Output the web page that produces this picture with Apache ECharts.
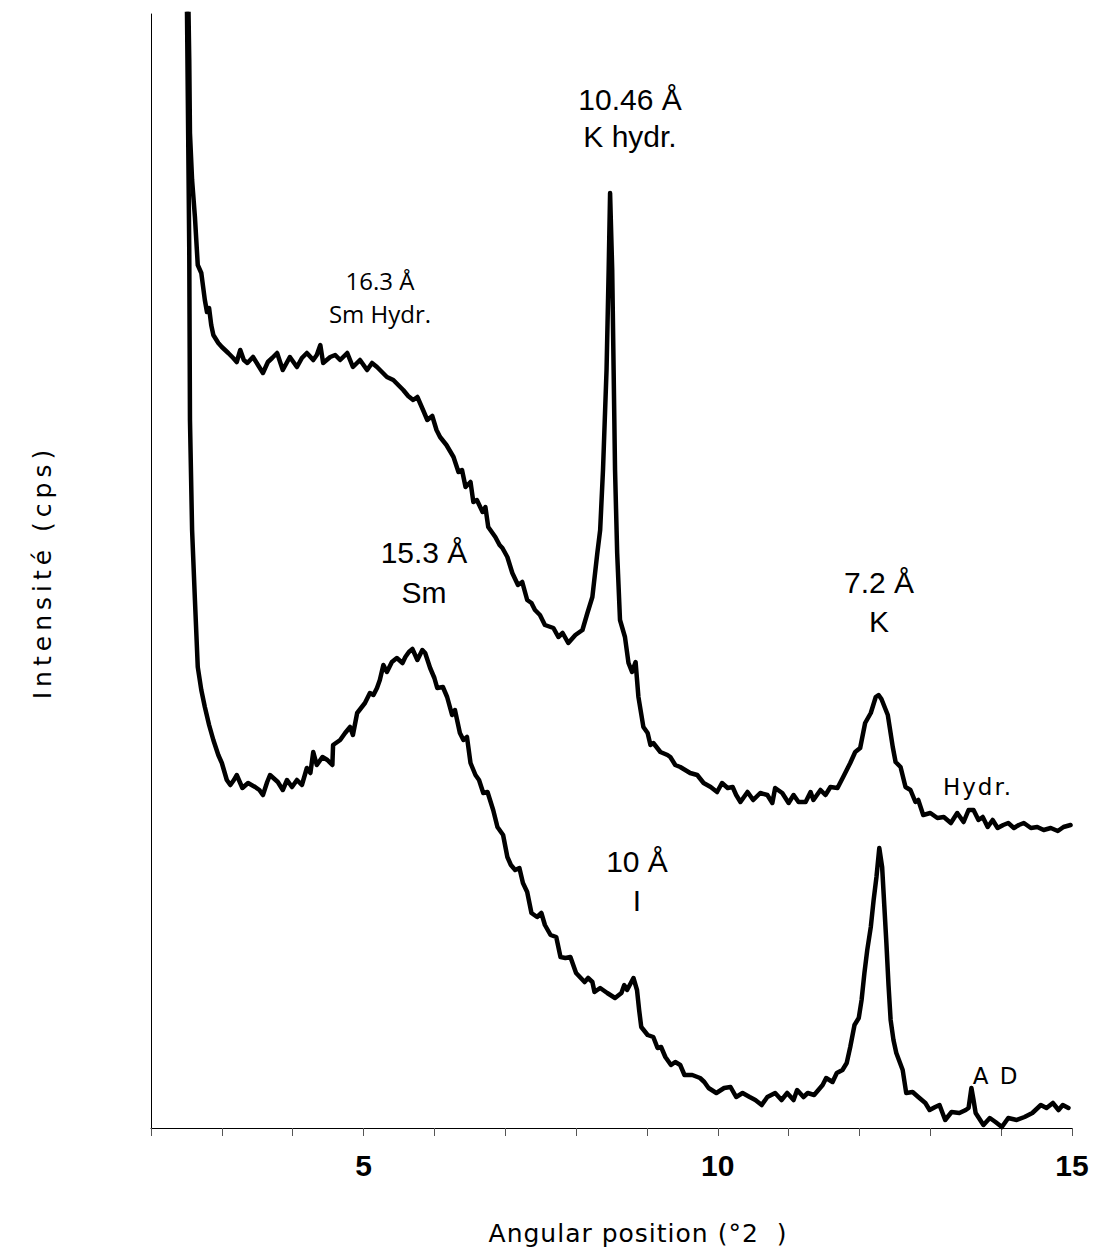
<!DOCTYPE html>
<html>
<head>
<meta charset="utf-8">
<script src="https://cdn.jsdelivr.net/npm/echarts@6/dist/echarts.min.js"></script>
<style>
  html, body { margin: 0; padding: 0; background: #fff; }
  #chart { width: 1106px; height: 1255px; }
  #chart svg text { white-space: pre; }
</style>
</head>
<body>
<div id="chart"></div>
<script>
// XRD patterns of the clay fraction: hydrated (upper) and air-dried (lower).
// Angular position in °2θ, intensity in counts per second.

const hydrX = [2.50, 2.54, 2.55, 2.58, 2.62, 2.66, 2.71, 2.76, 2.79, 2.82, 2.85, 2.88, 2.95, 3.00, 3.09, 3.16,
  3.21, 3.26, 3.31, 3.36, 3.44, 3.51, 3.58, 3.65, 3.71, 3.78, 3.86, 3.96, 4.06, 4.13, 4.20, 4.29, 4.34, 4.39,
  4.43, 4.53, 4.60, 4.67, 4.77, 4.85, 4.95, 5.05, 5.12, 5.19, 5.26, 5.33, 5.42, 5.49, 5.56, 5.63, 5.70, 5.76,
  5.84, 5.90, 5.97, 6.03, 6.08, 6.17, 6.27, 6.34, 6.39, 6.44, 6.51, 6.55, 6.60, 6.68, 6.72, 6.76, 6.86, 6.92,
  6.96, 7.03, 7.10, 7.18, 7.24, 7.31, 7.37, 7.42, 7.49, 7.56, 7.68, 7.75, 7.81, 7.89, 7.99, 8.09, 8.16, 8.23,
  8.30, 8.34, 8.38, 8.43, 8.46, 8.48, 8.51, 8.53, 8.55, 8.58, 8.62, 8.69, 8.74, 8.79, 8.84, 8.88, 8.95, 9.01,
  9.05, 9.09, 9.19, 9.29, 9.33, 9.40, 9.47, 9.54, 9.61, 9.71, 9.80, 9.90, 9.99, 10.06, 10.14, 10.21, 10.26,
  10.32, 10.42, 10.50, 10.60, 10.70, 10.77, 10.81, 10.91, 11.00, 11.07, 11.14, 11.24, 11.31, 11.35, 11.45,
  11.52, 11.59, 11.69, 11.77, 11.87, 11.94, 12.01, 12.08, 12.16, 12.23, 12.27, 12.31, 12.40, 12.47, 12.51,
  12.58, 12.65, 12.72, 12.79, 12.83, 12.90, 13.00, 13.10, 13.19, 13.29, 13.38, 13.47, 13.54, 13.61, 13.68,
  13.74, 13.81, 13.88, 13.95, 14.03, 14.10, 14.18, 14.25, 14.32, 14.42, 14.51, 14.60, 14.70, 14.80, 14.88, 14.98];

const hydrY = [2500, 2136, 1990, 1896, 1822, 1726, 1710, 1656, 1632, 1640, 1606, 1586, 1570, 1562, 1550, 1540,
  1532, 1556, 1536, 1530, 1542, 1526, 1510, 1532, 1540, 1550, 1516, 1542, 1522, 1540, 1550, 1536, 1546, 1566,
  1530, 1542, 1546, 1536, 1550, 1522, 1536, 1516, 1530, 1522, 1512, 1502, 1496, 1486, 1476, 1464, 1456, 1462,
  1436, 1416, 1424, 1396, 1382, 1366, 1342, 1312, 1316, 1282, 1292, 1252, 1256, 1232, 1242, 1202, 1182, 1166,
  1160, 1142, 1110, 1086, 1092, 1056, 1050, 1036, 1026, 1006, 1000, 982, 990, 970, 986, 996, 1030, 1062,
  1150, 1196, 1316, 1516, 1716, 1870, 1716, 1516, 1316, 1150, 1016, 982, 930, 912, 932, 862, 802, 790,
  766, 770, 752, 746, 742, 726, 722, 716, 710, 706, 690, 682, 672, 690, 680, 682, 666,
  652, 672, 656, 670, 666, 650, 680, 670, 650, 666, 652, 652, 672, 656, 676,
  666, 682, 680, 702, 730, 752, 760, 810, 830, 862, 866, 858, 826, 762, 732,
  722, 682, 676, 652, 656, 626, 630, 620, 622, 610, 630, 612, 636, 636, 616,
  622, 602, 616, 600, 606, 610, 600, 606, 610, 600, 602, 596, 600, 594, 602, 606];

const dryX = [2.49, 2.52, 2.54, 2.55, 2.58, 2.62, 2.66, 2.71, 2.76, 2.82, 2.88, 2.95, 3.00, 3.07, 3.12, 3.17,
  3.21, 3.29, 3.37, 3.47, 3.53, 3.58, 3.64, 3.68, 3.79, 3.86, 3.92, 3.99, 4.06, 4.13, 4.20, 4.25, 4.29, 4.34,
  4.42, 4.49, 4.56, 4.57, 4.67, 4.74, 4.81, 4.85, 4.91, 5.02, 5.09, 5.14, 5.19, 5.23, 5.28, 5.33, 5.40, 5.47,
  5.55, 5.59, 5.64, 5.69, 5.76, 5.83, 5.87, 5.94, 6.00, 6.04, 6.12, 6.18, 6.25, 6.29, 6.36, 6.41, 6.46, 6.51,
  6.58, 6.63, 6.69, 6.75, 6.83, 6.89, 6.94, 6.97, 7.03, 7.08, 7.14, 7.20, 7.25, 7.31, 7.37, 7.45, 7.51, 7.56,
  7.64, 7.72, 7.78, 7.85, 7.92, 8.00, 8.12, 8.17, 8.23, 8.26, 8.34, 8.44, 8.55, 8.64, 8.68, 8.72, 8.81, 8.86,
  8.89, 8.92, 9.01, 9.09, 9.15, 9.20, 9.26, 9.34, 9.40, 9.47, 9.53, 9.64, 9.75, 9.81, 9.87, 9.98, 10.09,
  10.18, 10.26, 10.35, 10.45, 10.53, 10.62, 10.70, 10.81, 10.90, 10.98, 11.07, 11.12, 11.21, 11.27, 11.36,
  11.42, 11.48, 11.53, 11.62, 11.68, 11.76, 11.82, 11.87, 11.93, 11.99, 12.03, 12.07, 12.11, 12.16, 12.20,
  12.24, 12.28, 12.32, 12.35, 12.38, 12.41, 12.44, 12.48, 12.52, 12.61, 12.66, 12.75, 12.83, 12.93, 12.99,
  13.07, 13.13, 13.21, 13.30, 13.41, 13.50, 13.54, 13.58, 13.61, 13.64, 13.75, 13.84, 13.92, 14.01, 14.10,
  14.22, 14.33, 14.44, 14.56, 14.64, 14.73, 14.81, 14.87, 14.95];

const dryY = [2500, 2056, 1756, 1416, 1196, 1056, 922, 876, 842, 806, 776, 746, 730, 696, 686, 696,
  706, 680, 690, 682, 676, 666, 692, 706, 692, 676, 696, 682, 696, 686, 720, 710, 752, 726,
  742, 736, 726, 766, 776, 790, 802, 786, 830, 850, 870, 866, 880, 896, 926, 912, 932, 940,
  930, 942, 952, 958, 936, 956, 950, 920, 900, 880, 882, 862, 826, 836, 790, 776, 782, 730,
  706, 696, 670, 672, 636, 602, 592, 586, 542, 526, 516, 520, 490, 472, 430, 422, 430, 406,
  386, 382, 342, 340, 342, 310, 292, 300, 292, 272, 280, 270, 260, 270, 286, 276, 300, 276,
  236, 202, 186, 182, 160, 162, 142, 126, 132, 126, 106, 106, 100, 92, 80, 70, 80,
  82, 62, 70, 62, 56, 46, 62, 70, 56, 70, 56, 76, 62, 70, 66,
  76, 86, 100, 92, 110, 116, 130, 162, 206, 220, 256, 310, 356, 402, 456,
  502, 560, 522, 446, 370, 286, 216, 176, 150, 116, 70, 72, 62, 50, 36,
  42, 46, 16, 32, 30, 36, 40, 80, 56, 30, 6, 20, 12, 2, 20,
  16, 22, 30, 46, 40, 50, 36, 46, 40];

const xTickLabels = [5, 10, 15];
const axisTitleX = 'Angular position (°2  )';
const axisTitleY = 'Intensité (cps)';

const toPairs = (xs, ys) => xs.map((x, i) => [x, ys[i]]);

const chart = echarts.init(document.getElementById('chart'), null, { renderer: 'svg' });

const arial = 'Liberation Sans, Arial, sans-serif';
const verd = 'DejaVu Sans, Verdana, sans-serif';
const calib = 'Open Sans, Calibri, sans-serif';

function note(text, x, y, font, size, lh) {
  return {
    type: 'text', x: x, y: y, z: 10,
    style: {
      text: text, fill: '#000', align: 'center', verticalAlign: 'middle',
      font: size + 'px ' + font, lineHeight: lh || size
    }
  };
}

chart.setOption({
  animation: false,
  backgroundColor: '#fff',
  grid: { left: 151, right: 34, top: 14, bottom: 127 },
  xAxis: {
    type: 'value', min: 2, max: 15, interval: 1,
    axisLine: { show: true, lineStyle: { color: '#000', width: 1 } },
    axisTick: { show: true, length: 8, lineStyle: { color: '#555', width: 1 } },
    splitLine: { show: false },
    axisLabel: {
      margin: 22,
      fontFamily: arial, fontWeight: 'bold', fontSize: 30, color: '#000',
      formatter: v => (xTickLabels.indexOf(v) >= 0 ? String(v) : '')
    }
  },
  yAxis: {
    type: 'value', min: 0, max: 2228,
    axisLine: { show: true, lineStyle: { color: '#000', width: 1 } },
    axisTick: { show: false },
    axisLabel: { show: false },
    splitLine: { show: false }
  },
  series: [
    {
      name: 'Hydr.', type: 'line', data: toPairs(hydrX, hydrY),
      showSymbol: false, symbol: 'none', clip: true,
      lineStyle: { color: '#000', width: 4.5, join: 'round', cap: 'round' }
    },
    {
      name: 'A D', type: 'line', data: toPairs(dryX, dryY),
      showSymbol: false, symbol: 'none', clip: true,
      lineStyle: { color: '#000', width: 4.5, join: 'round', cap: 'round' }
    }
  ],
  graphic: [
    note('10.46 Å\nK hydr.', 630, 118, arial, 30, 37),
    note('16.3 Å\nSm Hydr.', 380, 297, calib, 24, 33),
    note('15.3 Å\nSm', 424, 572, arial, 30, 40),
    note('7.2 Å\nK', 879, 602, arial, 30, 39),
    note('10 Å\nI', 637, 881, arial, 30, 39),
    note('Hydr.', 978, 787, verd, 23),
    note('A D', 996, 1076, verd, 23),
    note(axisTitleX, 638, 1233, verd, 25),
    {
      type: 'text', x: 42, y: 572, rotation: Math.PI / 2, z: 10,
      style: {
        text: axisTitleY, fill: '#000', align: 'center', verticalAlign: 'middle',
        font: '25px ' + verd
      }
    }
  ]
});

// Spaced-out lettering for the axis titles and the small pattern tags.
const spacing = {};
spacing[axisTitleY] = '5px';
spacing[axisTitleX] = '1px';
spacing['Hydr.'] = '2px';
spacing['A D'] = '2px';
function applySpacing() {
  document.querySelectorAll('#chart svg text').forEach(t => {
    const s = spacing[t.textContent];
    if (s) t.style.letterSpacing = s;
  });
}
applySpacing();
chart.on('finished', applySpacing);
</script>
</body>
</html>
